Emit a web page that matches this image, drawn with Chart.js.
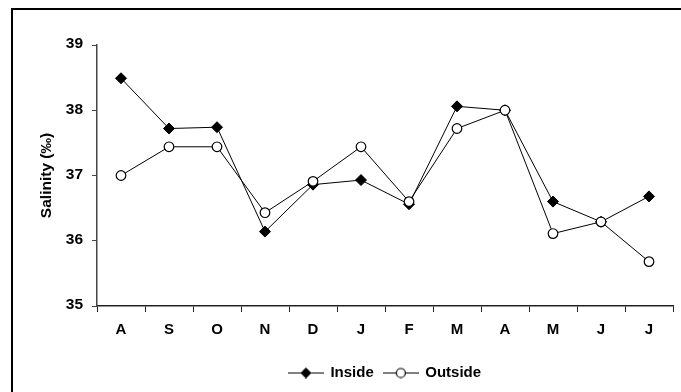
<!DOCTYPE html>
<html>
<head>
<meta charset="utf-8">
<script src="https://cdn.jsdelivr.net/npm/chart.js@4"></script>
<style>
  html, body { margin: 0; padding: 0; background: #fff; overflow: hidden; }
  #wrap { position: relative; width: 681px; height: 392px; overflow: hidden; }
  #frame { position: absolute; left: 11px; top: 8px; width: 800px; height: 500px;
           border-left: 2px solid #000; border-top: 2px solid #000; pointer-events: none; }
  #chart { position: absolute; left: 0; top: 0; }
</style>
</head>
<body>
<div id="wrap">
  <div id="frame"></div>
  <canvas id="chart" width="681" height="392"></canvas>
</div>
<script>
const months = ['A', 'S', 'O', 'N', 'D', 'J', 'F', 'M', 'A', 'M', 'J', 'J'];
const inside = [38.49, 37.72, 37.74, 36.14, 36.86, 36.93, 36.56, 38.06, 38.0, 36.6, 36.29, 36.68];
const outside = [37.0, 37.44, 37.44, 36.43, 36.91, 37.44, 36.6, 37.72, 38.0, 36.11, 36.29, 35.68];
const yTicks = [35, 36, 37, 38, 39];

const FONT = 'Arial, "Liberation Sans", sans-serif';

// small canvas used as legend symbol: line with marker in the middle
function legendSymbol(kind) {
  const c = document.createElement('canvas');
  c.width = 36; c.height = 12;
  const g = c.getContext('2d');
  g.strokeStyle = '#000';
  g.lineWidth = 1;
  g.beginPath(); g.moveTo(0, 6.5); g.lineTo(36, 6.5); g.stroke();
  g.beginPath();
  if (kind === 'diamond') {
    g.moveTo(18, 1); g.lineTo(23.5, 6.5); g.lineTo(18, 12); g.lineTo(12.5, 6.5); g.closePath();
    g.fillStyle = '#000'; g.fill();
  } else {
    g.arc(18, 6.5, 4.5, 0, Math.PI * 2);
    g.fillStyle = '#fff'; g.fill();
    g.lineWidth = 1.2; g.stroke();
  }
  return c;
}
const symbols = [legendSymbol('diamond'), legendSymbol('circle')];

new Chart(document.getElementById('chart'), {
  type: 'line',
  data: {
    labels: months,
    datasets: [
      {
        label: 'Inside',
        data: inside,
        borderColor: '#000',
        borderWidth: 1,
        pointStyle: 'rectRot',
        pointRadius: 5.5,
        pointBackgroundColor: '#000',
        pointBorderColor: '#000',
        pointBorderWidth: 1,
        tension: 0,
        order: 1
      },
      {
        label: 'Outside',
        data: outside,
        borderColor: '#000',
        borderWidth: 1,
        pointStyle: 'circle',
        pointRadius: 4.8,
        pointBackgroundColor: '#fff',
        pointBorderColor: '#000',
        pointBorderWidth: 1.2,
        tension: 0,
        order: 0
      }
    ]
  },
  options: {
    responsive: false,
    animation: false,
    layout: { padding: { left: 0, top: 45, right: 8, bottom: 2 } },
    plugins: {
      tooltip: { enabled: false },
      legend: {
        position: 'bottom',
        fullSize: false,
        labels: {
          usePointStyle: true,
          pointStyleWidth: 34,
          padding: 10,
          color: '#000',
          font: { family: FONT, size: 15, weight: 'bold' },
          generateLabels: (chart) => chart.data.datasets.map((ds, i) => ({
            text: ds.label,
            pointStyle: symbols[i],
            fillStyle: '#000',
            strokeStyle: '#000',
            lineWidth: 0,
            fontColor: '#000',
            datasetIndex: i
          }))
        }
      }
    },
    scales: {
      x: {
        offset: true,
        grid: { offset: true, drawOnChartArea: false, drawTicks: true, tickLength: 6, color: '#222' },
        border: { display: true, color: '#222', width: 1.5 },
        ticks: {
          color: '#000',
          padding: 9,
          maxRotation: 0,
          font: { family: FONT, size: 15, weight: 'bold' }
        },
        afterFit: (s) => { s.height = 49; }
      },
      y: {
        min: 35,
        max: 39,
        afterBuildTicks: (s) => { s.ticks = yTicks.map(v => ({ value: v })); },
        grid: { drawOnChartArea: false, drawTicks: true, tickLength: 5, color: '#444' },
        border: { display: true, color: '#444', width: 1.5 },
        ticks: {
          color: '#000',
          padding: 9,
          labelOffset: -1,
          font: { family: FONT, size: 15.5, weight: 'bold' }
        },
        title: {
          display: true,
          text: 'Salinity (‰)',
          color: '#000',
          padding: { top: 37, bottom: 0 },
          font: { family: FONT, size: 15.5, weight: 'bold' }
        },
        afterFit: (s) => { s.width = 97; }
      }
    }
  }
});
</script>
</body>
</html>
